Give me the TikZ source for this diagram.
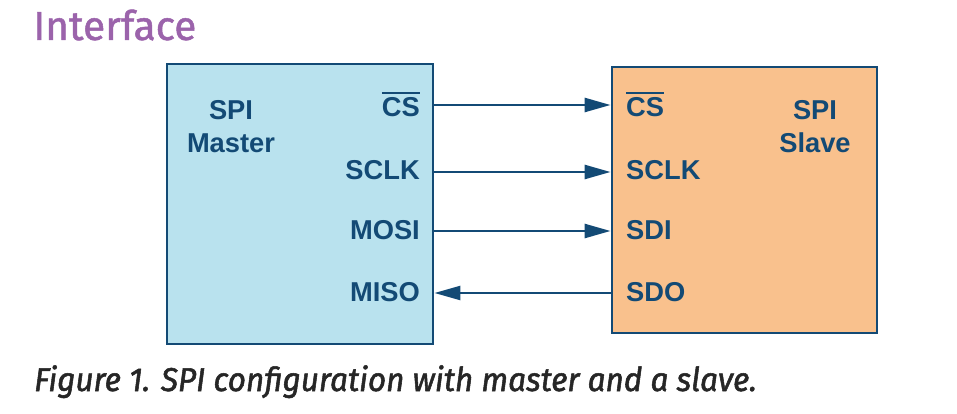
\documentclass[tikz,border=0pt]{standalone}
\usepackage{fontspec}
\setmainfont{Liberation Sans}
\newfontfamily\headfont[FakeBold=1.2]{Fira Sans}
\newfontfamily\capfont[FakeBold=1.6,FakeStretch=0.955]{Fira Sans}
\usetikzlibrary{arrows.meta,positioning}
\definecolor{spiblue}{HTML}{134A75}
\definecolor{masterfill}{HTML}{B9E2EE}
\definecolor{slavefill}{HTML}{F9C18D}
\definecolor{headpurple}{HTML}{9B63AB}
\definecolor{captext}{HTML}{262626}
\newcommand{\notcs}{\setbox0\hbox{CS}\rlap{\rule[\dimexpr\ht0+4pt\relax]{\wd0}{2pt}}\box0}

\begin{document}
\begin{tikzpicture}[x=1pt,y=-1pt,
  block/.style={draw=spiblue, line width=2.8pt, inner sep=0pt},
  pinlabel/.style={text=spiblue, font=\bfseries\fontsize{27.3}{33}\selectfont, inner sep=0pt},
  title/.style={text=spiblue, font=\bfseries\fontsize{27.3}{33}\selectfont, align=center, inner sep=0pt},
  sig/.style={draw=spiblue, line width=2.5pt, -{Triangle[length=26pt,width=14pt]}}]
\useasboundingbox (0,0) rectangle (957,414);
% heading and caption
\node[anchor=base west, inner sep=0pt, text=headpurple, font=\headfont\fontsize{40.6}{44}\selectfont] (head) at (33,40) {Interface};
\node[anchor=base west, inner sep=0pt, text=captext, font=\capfont\itshape\fontsize{33}{36}\selectfont] (cap) at (34,391) {Figure 1. SPI configuration with master and a slave.};
% the two devices
\node[block, fill=masterfill, minimum width=266pt, minimum height=280pt] (master) at (300,204) {};
\node[block, fill=slavefill, minimum width=265pt, minimum height=266pt] (slave) at (744.5,200) {};
\node[title, anchor=base] (mtitle) at (231,153) {SPI\\Master};
\node[title, anchor=base] (stitle) at (815,153) {SPI\\Slave};
% master pins
\node[pinlabel, anchor=base east] (mcs) at (420,117) {\notcs};
\node[pinlabel, anchor=base east] (msclk) at (420,179) {SCLK};
\node[pinlabel, anchor=base east] (mosi) at (420,239) {MOSI};
\node[pinlabel, anchor=base east] (miso) at (420,301) {MISO};
% slave pins
\node[pinlabel, anchor=base west] (scs) at (626,117) {\notcs};
\node[pinlabel, anchor=base west] (ssclk) at (626,179) {SCLK};
\node[pinlabel, anchor=base west] (sdi) at (626,239) {SDI};
\node[pinlabel, anchor=base west] (sdo) at (626,301) {SDO};
% wires
\coordinate (ycs) at (0,105);
\coordinate (yclk) at (0,172);
\coordinate (ymosi) at (0,231);
\coordinate (ymiso) at (0,293);
\draw[sig] (master.east |- ycs) -- (slave.west |- ycs);
\draw[sig] (master.east |- yclk) -- (slave.west |- yclk);
\draw[sig] (master.east |- ymosi) -- (slave.west |- ymosi);
\draw[sig] (slave.west |- ymiso) -- (master.east |- ymiso);
\end{tikzpicture}
\end{document}
